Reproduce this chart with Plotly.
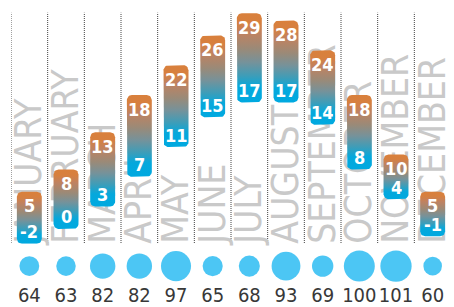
import numpy as np
import plotly.graph_objects as go

months = ["JANUARY", "FEBRUARY", "MARCH", "APRIL", "MAY", "JUNE", "JULY",
          "AUGUST", "SEPTEMBER", "OCTOBER", "NOVEMBER", "DECEMBER"]
temp_max = [5, 8, 13, 18, 22, 26, 29, 28, 24, 18, 10, 5]
temp_min = [-2, 0, 3, 7, 11, 15, 17, 17, 14, 8, 4, -1]
rain = [64, 63, 82, 82, 97, 65, 68, 93, 69, 100, 101, 60]

FONT = "DejaVu Sans Condensed, DejaVu Sans, sans-serif"
W, H = 454, 307
ML, MR = 11, 3
Y_RANGE = [-2, 30.77]
Y_DOMAIN = [1 - 243.8 / H, 1]
px_per_x = (W - ML - MR) / 12.0
px_per_y = (Y_DOMAIN[1] - Y_DOMAIN[0]) * H / (Y_RANGE[1] - Y_RANGE[0])

HALF_W = 0.34          # half bar width in category units
RADIUS_PX = 5.0
rx = RADIUS_PX / px_per_x
ry = RADIUS_PX / px_per_y

gradient = [[0.0, "#00a9e0"], [0.17, "#05a8dc"], [0.30, "#3e9db8"],
            [0.45, "#76929a"], [0.60, "#9a8a78"], [0.78, "#c08260"],
            [0.90, "#d7803f"], [1.0, "#d9803c"]]


def rounded_rect(xc, lo, hi):
    xs, ys = [], []
    corners = [
        (xc + HALF_W - rx, hi - ry, 0, np.pi / 2),
        (xc - HALF_W + rx, hi - ry, np.pi / 2, np.pi),
        (xc - HALF_W + rx, lo + ry, np.pi, 1.5 * np.pi),
        (xc + HALF_W - rx, lo + ry, 1.5 * np.pi, 2 * np.pi),
    ]
    for cx, cy, a0, a1 in corners:
        t = np.linspace(a0, a1, 8)
        xs.extend(cx + rx * np.cos(t))
        ys.extend(cy + ry * np.sin(t))
    xs.append(xs[0])
    ys.append(ys[0])
    return xs, ys


fig = go.Figure()

for i, (lo, hi) in enumerate(zip(temp_min, temp_max)):
    xs, ys = rounded_rect(i, lo, hi)
    fig.add_trace(go.Scatter(
        x=xs, y=ys, mode="lines", fill="toself",
        line=dict(width=0, color="rgba(0,0,0,0)"),
        fillgradient=dict(type="vertical", colorscale=gradient),
        hoverinfo="skip", showlegend=False,
    ))

label_font = dict(family=FONT, size=18, color="white", weight="bold")
annotations = []
for i, (lo, hi) in enumerate(zip(temp_min, temp_max)):
    annotations.append(dict(x=i, y=hi, xref="x", yref="y", text=str(hi),
                            showarrow=False, yanchor="middle", yshift=-13.5,
                            height=16, valign="middle", font=label_font))
    annotations.append(dict(x=i, y=lo, xref="x", yref="y", text=str(lo),
                            showarrow=False, yanchor="middle", yshift=12.5,
                            height=16, valign="middle", font=label_font))

CIRCLE_ROW = 0.74
NUMBER_ROW = 0.18
fig.add_trace(go.Scatter(
    x=list(range(12)), y=[CIRCLE_ROW] * 12, yaxis="y2", mode="markers",
    marker=dict(size=[r * 0.31 for r in rain], color="#00aeef",
                sizemode="diameter", line=dict(width=0)),
    cliponaxis=False, showlegend=False, hoverinfo="skip",
))
fig.add_trace(go.Scatter(
    x=list(range(12)), y=[NUMBER_ROW] * 12, yaxis="y2", mode="text",
    text=[str(r) for r in rain],
    textfont=dict(family=FONT, size=20, color="#383838"),
    cliponaxis=False, showlegend=False, hoverinfo="skip",
))

shapes = []
for i in range(12):
    shapes.append(dict(type="line", xref="x", yref="paper",
                       x0=i - 0.5, x1=i - 0.5,
                       y0=1 - 243.0 / H, y1=1 - 12.7 / H,
                       line=dict(color="#444444", width=1, dash="1px,1px"),
                       layer="below"))

fig.update_layout(
    width=W, height=H,
    margin=dict(l=ML, r=MR, t=0, b=0),
    paper_bgcolor="white", plot_bgcolor="white",
    xaxis=dict(range=[-0.5, 11.5], tickvals=list(range(12)), ticktext=months,
               tickangle=-90, side="top", anchor="free", position=Y_DOMAIN[0],
               layer="below traces",
               tickfont=dict(family=FONT, size=37, color="#c9c9c9"),
               showgrid=False, zeroline=False, showline=False, ticks="",
               fixedrange=True),
    yaxis=dict(domain=Y_DOMAIN, range=Y_RANGE, visible=False, fixedrange=True),
    yaxis2=dict(domain=[0, 0.18], range=[0, 1], visible=False, fixedrange=True),
    shapes=shapes,
    annotations=annotations,
    showlegend=False,
)

fig.write_html("out.html", config={"displayModeBar": False, "staticPlot": True},
               post_script="document.body.style.margin='0';")
